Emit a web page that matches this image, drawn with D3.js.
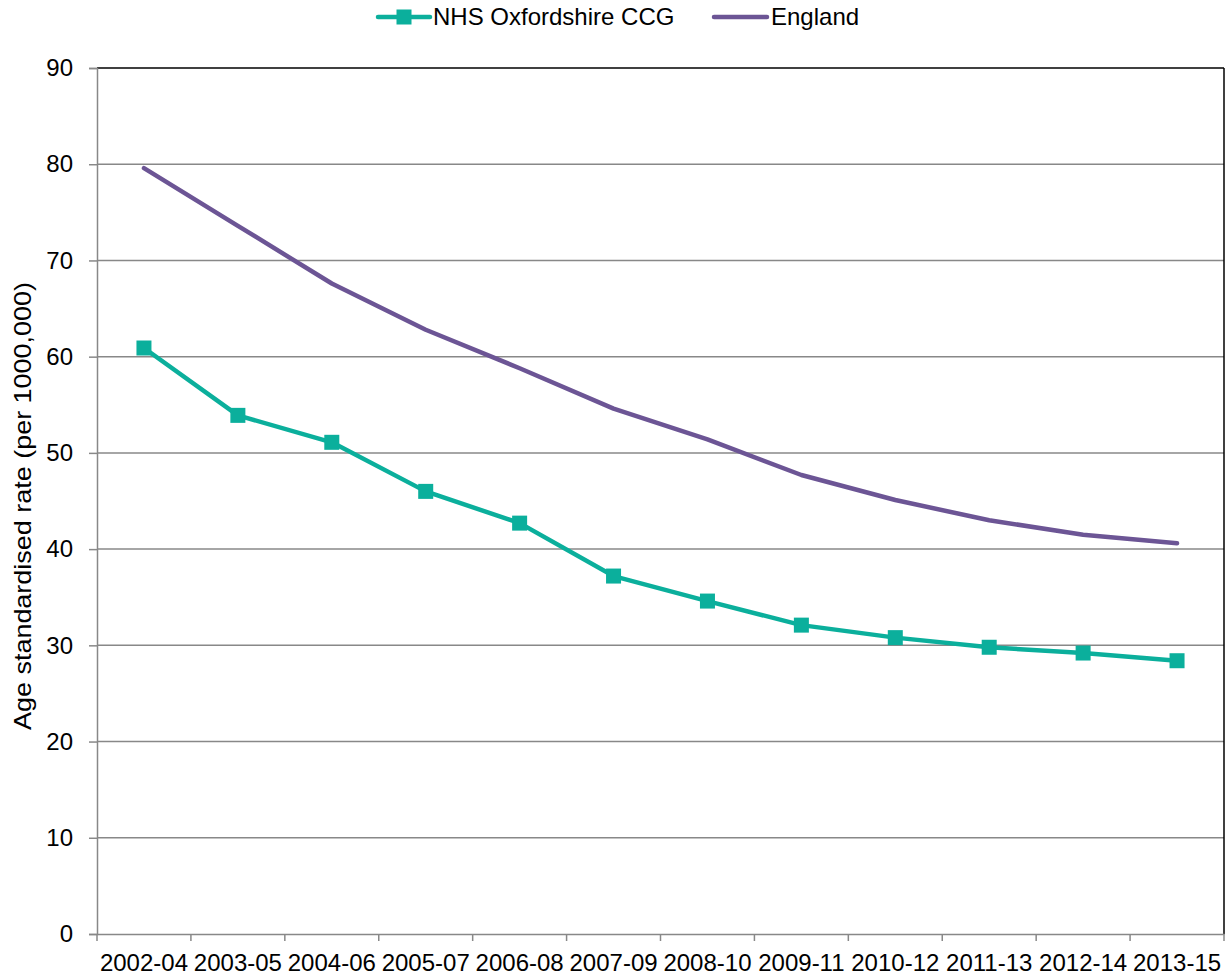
<!DOCTYPE html>
<html><head><meta charset="utf-8">
<script src="https://d3js.org/d3.v7.min.js"></script>
<style>body{margin:0;background:#fff;} text{font-family:"Liberation Sans",Arial,sans-serif;fill:#000;}</style>
</head><body>
<svg id="c" width="1227" height="977"></svg>
<script>
const categories = ["2002-04","2003-05","2004-06","2005-07","2006-08","2007-09","2008-10","2009-11","2010-12","2011-13","2012-14","2013-15"];
const oxfordshire = [60.9,53.9,51.1,46.0,42.7,37.2,34.6,32.1,30.8,29.8,29.2,28.4];
const england = [79.6,73.6,67.6,62.8,58.8,54.6,51.4,47.7,45.1,43.0,41.5,40.6];
const yTicks = [0,10,20,30,40,50,60,70,80,90];
const seriesNames = ["NHS Oxfordshire CCG","England"];
const colors = ["#0BAF9C","#6C5595"];

const svg = d3.select("#c");
const L=97,R=1224,T=68,B=934;
const x = d3.scaleBand().domain(categories).range([L,R]);
const y = d3.scaleLinear().domain([0,90]).range([B,T]);

// gridlines
svg.append("g").selectAll("line").data(yTicks.filter(d=>d>0)).join("line")
  .attr("x1",L).attr("x2",R).attr("y1",d=>y(d)).attr("y2",d=>y(d))
  .attr("stroke",d=>d===90?"#000":"#888").attr("stroke-width",1.5);
// right border
svg.append("line").attr("x1",R).attr("x2",R).attr("y1",T).attr("y2",B).attr("stroke","#000").attr("stroke-width",1.5);

// y axis
const ya = svg.append("g").attr("transform",`translate(${L},0)`).call(d3.axisLeft(y).tickValues(yTicks).tickSize(8).tickPadding(16));
ya.select(".domain").attr("stroke","#888").attr("stroke-width",1.5);
ya.selectAll(".tick line").attr("stroke","#888").attr("stroke-width",1.5);
ya.selectAll("text").style("font-size","24px").attr("fill","#000");

// x axis
const xa = svg.append("g").attr("transform",`translate(0,${B})`).call(d3.axisBottom(x).tickSize(0).tickPadding(20));
xa.select(".domain").attr("stroke","#888").attr("stroke-width",1.5);
xa.selectAll("text").style("font-size","24px").attr("fill","#000");
const bounds = categories.map(c=>x(c)).concat([R]);
svg.append("g").selectAll("line").data(bounds).join("line")
  .attr("x1",d=>d).attr("x2",d=>d).attr("y1",B).attr("y2",B+7).attr("stroke","#888").attr("stroke-width",1.5);

// y label
svg.append("text").attr("transform",`translate(31,${(T+B)/2+5}) rotate(-90)`).attr("text-anchor","middle")
  .style("font-size","24px").attr("textLength",448).attr("lengthAdjust","spacingAndGlyphs")
  .text("Age standardised rate (per 1000,000)");

const line = d3.line().x((d,i)=>x(categories[i])+x.bandwidth()/2).y(d=>y(d));
svg.append("path").datum(england).attr("d",line).attr("fill","none").attr("stroke",colors[1]).attr("stroke-width",4.5).attr("stroke-linecap","round").attr("stroke-linejoin","round");
svg.append("path").datum(oxfordshire).attr("d",line).attr("fill","none").attr("stroke",colors[0]).attr("stroke-width",4.5).attr("stroke-linejoin","round");
svg.append("g").selectAll("rect").data(oxfordshire).join("rect")
  .attr("x",(d,i)=>x(categories[i])+x.bandwidth()/2-7.5).attr("y",d=>y(d)-7.5).attr("width",15).attr("height",15).attr("fill",colors[0]);

// legend
const lg = svg.append("g");
lg.append("line").attr("x1",378).attr("x2",430).attr("y1",17).attr("y2",17).attr("stroke",colors[0]).attr("stroke-width",4.5).attr("stroke-linecap","round");
lg.append("rect").attr("x",396.5).attr("y",9.5).attr("width",15).attr("height",15).attr("fill",colors[0]);
lg.append("text").attr("x",433).attr("y",25).style("font-size","24px").text(seriesNames[0]);
lg.append("line").attr("x1",714).attr("x2",767).attr("y1",17).attr("y2",17).attr("stroke",colors[1]).attr("stroke-width",4.5).attr("stroke-linecap","round");
lg.append("text").attr("x",771).attr("y",25).style("font-size","24px").text(seriesNames[1]);
</script>
</body></html>
